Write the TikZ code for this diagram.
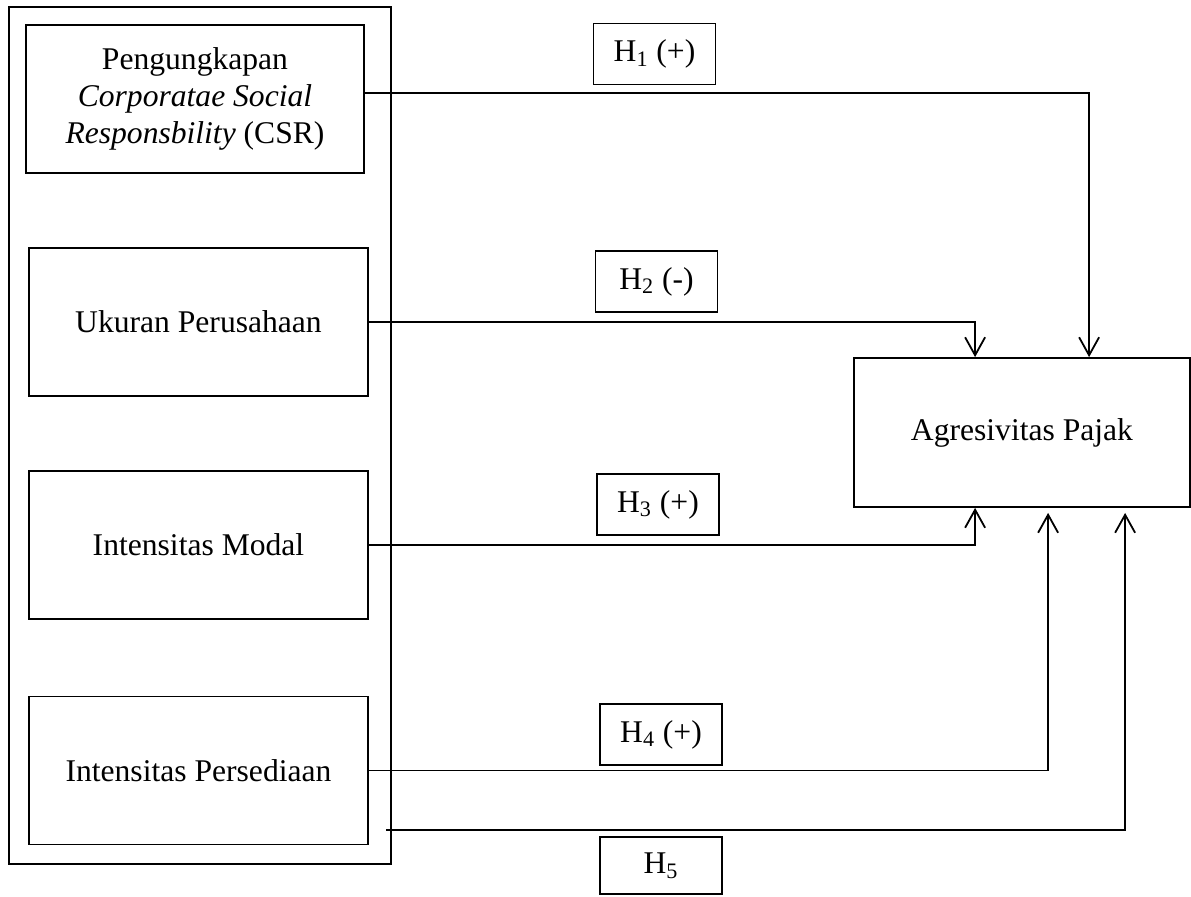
\documentclass[tikz,border=0pt]{standalone}
\usepackage{fontspec}
\setmainfont{Liberation Serif}
\usetikzlibrary{arrows.meta}

\begin{document}
\begin{tikzpicture}[x=0.5pt,y=-0.5pt,line width=0.9pt,
    font=\fontsize{15.8}{18.3}\selectfont,
    var/.style={draw,inner sep=0pt,minimum width=169.5pt,minimum height=74pt,align=center},
    hyp/.style={draw,inner sep=0pt,minimum width=61pt,minimum height=30.5pt},
    arr/.style={-{Straight Barb[length=9pt,width=10pt]}}]
    \useasboundingbox (0,0) rectangle (1191,896);
    % frame round the independent variables
    \draw (9,7) rectangle (391,864);
    \node[var,minimum width=169pt] (csr) at (195,99) {Pengungkapan\\\textit{Corporatae Social}\\\textit{Responsbility} (CSR)};
    \node[var] (size) at (198.5,322) {Ukuran Perusahaan};
    \node[var] (modal) at (198.5,545) {Intensitas Modal};
    \node[var] (pers) at (198.5,770.5) {Intensitas Persediaan};
    \node[var,minimum width=168pt,minimum height=74.5pt] (tax) at (1022,432.5) {Agresivitas Pajak};
    % hypothesis labels
    \node[hyp] (h1) at (654.5,54) {H\textsubscript{1} (+)};
    \node[hyp] (h2) at (656.5,281.5) {H\textsubscript{2} (-)};
    \node[hyp] (h3) at (658,504.5) {H\textsubscript{3} (+)};
    \node[hyp] (h4) at (661,734.5) {H\textsubscript{4} (+)};
    \node[hyp,minimum height=28.5pt] (h5) at (661,865.5) {H\textsubscript{5}};
    % paths into the dependent variable
    \draw[arr] ([yshift=3pt]csr.east) -| ([xshift=118pt]tax.north west);
    \draw[arr] (size.east) -| ([xshift=61pt]tax.north west);
    \draw[arr] (modal.east) -| ([xshift=61pt]tax.south west);
    \draw[arr] (pers.east) -| ([xshift=97.5pt,yshift=-2.5pt]tax.south west);
    \coordinate (h5start) at (386,830);
    \draw[arr] (h5start) -| ([xshift=136pt,yshift=-2.5pt]tax.south west);
\end{tikzpicture}
\end{document}
